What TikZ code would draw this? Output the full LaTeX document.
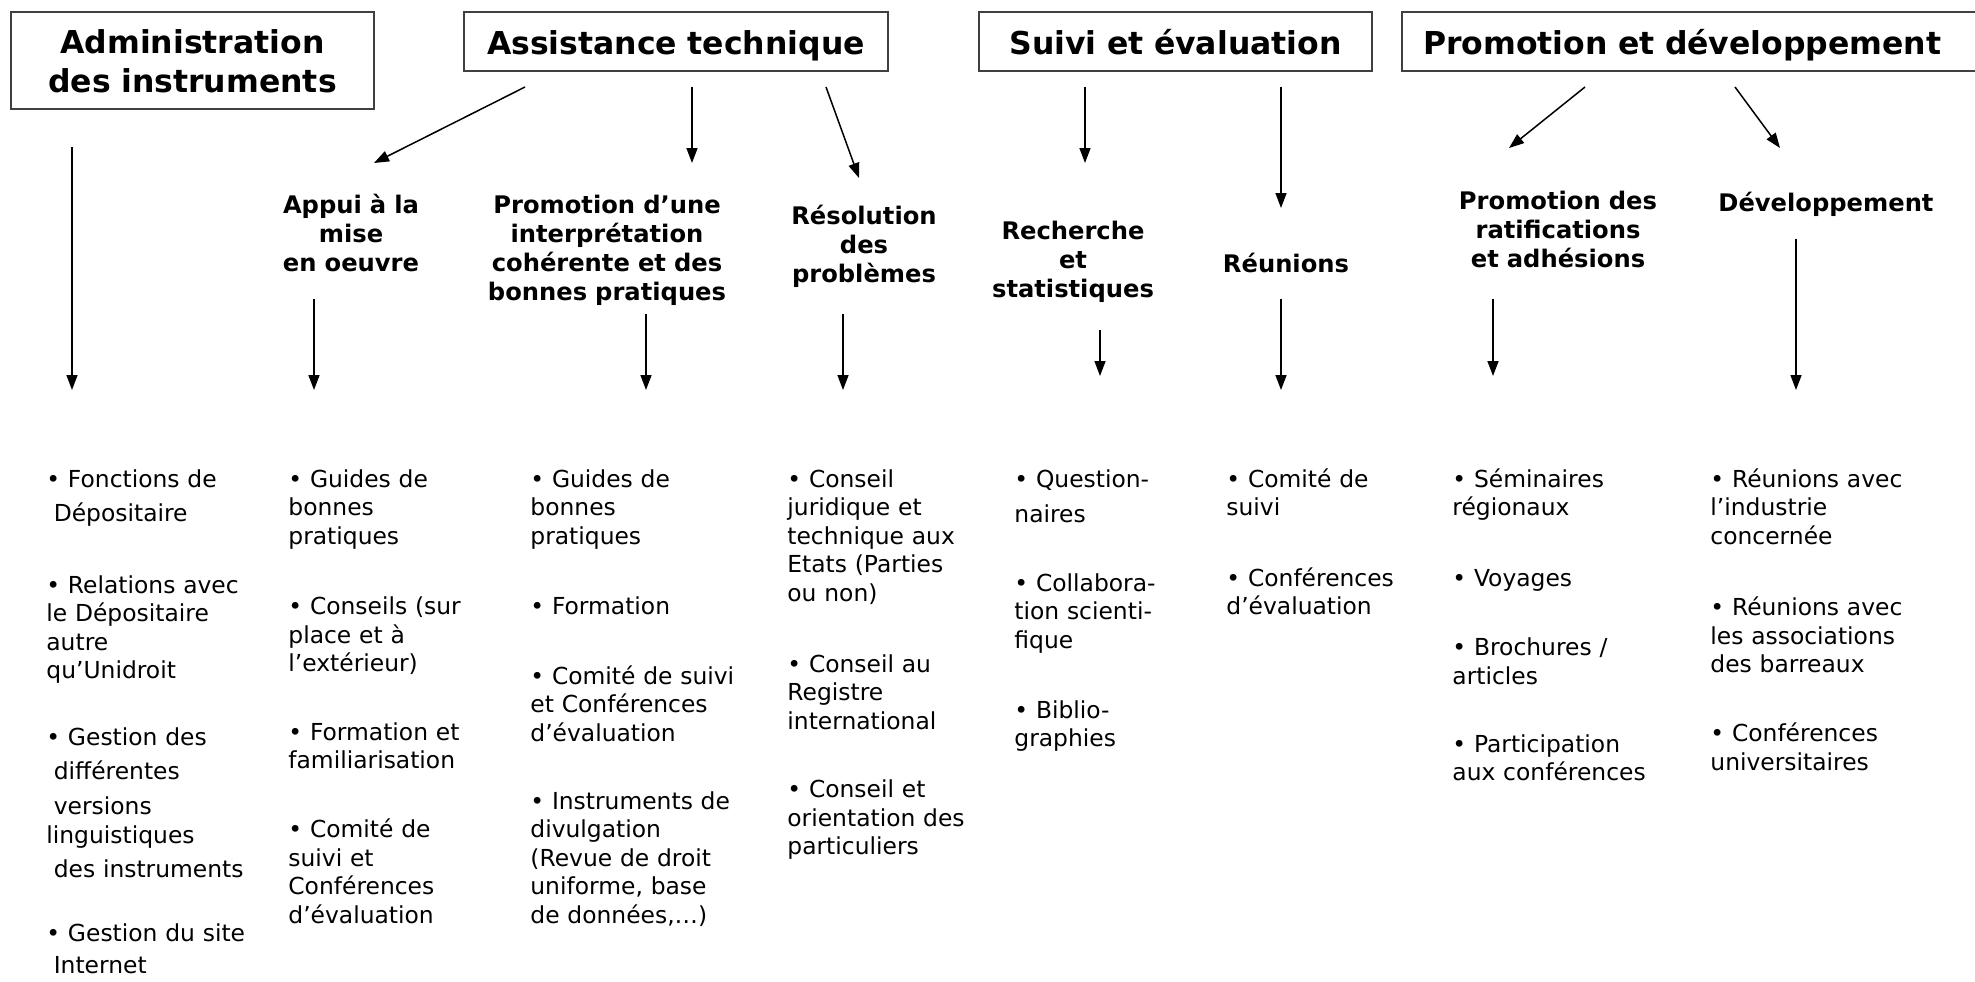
\documentclass[tikz,border=0pt]{standalone}
\usepackage{fontspec}
\setmainfont{DejaVu Sans}
\usetikzlibrary{arrows.meta}
\newcommand\myind{\hspace*{3.7pt}}
\begin{document}
\begin{tikzpicture}[x=0.5pt,y=-0.5pt,
  titlebox/.style={draw=black!75, line width=0.7pt, inner sep=0pt, align=center,
    font=\fontsize{15.75}{19.5}\selectfont\bfseries},
  subhead/.style={anchor=base, inner sep=0pt, text width=150pt, align=center,
    font=\fontsize{12.1}{14.5}\selectfont\bfseries},
  blist/.style={anchor=base west, inner sep=0pt, text width=140pt, align=left,
    font=\fontsize{11.7}{14.25}\selectfont},
  arr/.style={-{Triangle[length=7.5pt,width=5.5pt]}, line width=0.75pt}]

\useasboundingbox (0,0) rectangle (1975,981);
\clip (0,0) rectangle (1975,981);
\fill[white] (0,0) rectangle (1975,981);

% ---------- title boxes ----------
\node[titlebox, text width=181.5pt, minimum height=48.5pt, text height=12pt, text depth=19.5pt]
  (tAdmin) at (192.5,60.5) {Administration\\des instruments};
\node[titlebox, text width=212pt, minimum height=29.5pt, text height=12.5pt, text depth=0pt]
  (tAssist) at (676,41.5) {Assistance technique};
\node[titlebox, text width=196.5pt, minimum height=29.5pt, text height=12.5pt, text depth=0pt]
  (tSuivi) at (1175.5,41.5) {Suivi et évaluation};
\node[titlebox, align=left, text width=294pt, minimum height=29.5pt, text height=12.5pt, text depth=0pt]
  (tPromo) at (1696,41.5) {\hspace*{10.5pt}Promotion et développement};

% ---------- sub headings ----------
\node[subhead] (sAppui) at (351,213) {Appui à la\\mise\\en oeuvre};
\node[subhead] (sInterp) at (607,213.5) {Promotion d’une\\interprétation\\cohérente et des\\bonnes pratiques};
\node[subhead] (sResol) at (864,224.5) {Résolution\\des\\problèmes};
\node[subhead] (sRech) at (1073,239.5) {Recherche\\et\\statistiques};
\node[subhead] (sReun) at (1286,272.5) {Réunions};
\node[subhead] (sRatif) at (1558,209.5) {Promotion des\\ratifications\\et adhésions};
\node[subhead] (sDev) at (1826,211) {Développement};

% ---------- arrows ----------
\coordinate (a1s) at (72,147);    \coordinate (a1e) at (72,390);
\coordinate (a2s) at (525,87);    \coordinate (a2e) at (374,163);
\coordinate (a3s) at (692,87);    \coordinate (a3e) at (692,163);
\coordinate (a4s) at (826,87);    \coordinate (a4e) at (859,178);
\coordinate (a5s) at (314,299);   \coordinate (a5e) at (314,390);
\coordinate (a6s) at (646,314);   \coordinate (a6e) at (646,390);
\coordinate (a7s) at (843,314);   \coordinate (a7e) at (843,390);
\coordinate (a8s) at (1085,87);   \coordinate (a8e) at (1085,163);
\coordinate (a9s) at (1281,87);   \coordinate (a9e) at (1281,208);
\coordinate (a10s) at (1100,330); \coordinate (a10e) at (1100,376);
\coordinate (a11s) at (1281,299); \coordinate (a11e) at (1281,390);
\coordinate (a12s) at (1585,87);  \coordinate (a12e) at (1509,148);
\coordinate (a13s) at (1735,87);  \coordinate (a13e) at (1780,148);
\coordinate (a14s) at (1493,299); \coordinate (a14e) at (1493,376);
\coordinate (a15s) at (1796,239); \coordinate (a15e) at (1796,390);
\foreach \i in {1,...,15} {\draw[arr] (a\i s) -- (a\i e);}

% ---------- bullet lists ----------
% Administration
\node[blist] (c1i1) at (46,487) {• Fonctions de\\[2.75pt]\myind Dépositaire};
\node[blist] (c1i2) at (46,593) {• Relations avec\\le Dépositaire\\autre\\qu’Unidroit};
\node[blist] (c1i3) at (46,745) {• Gestion des\\[3pt]\myind différentes\\[3.25pt]\myind versions\\linguistiques\\[3pt]\myind des instruments};
\node[blist] (c1i4) at (46,941) {• Gestion du site\\[1.75pt]\myind Internet};
% Appui
\node[blist] (c2i1) at (288,487) {• Guides de\\bonnes\\pratiques};
\node[blist] (c2i2) at (288,614.5) {• Conseils (sur\\place et à\\l’extérieur)};
\node[blist] (c2i3) at (288,740) {• Formation et\\familiarisation};
\node[blist] (c2i4) at (288,837.5) {• Comité de\\suivi et\\Conférences\\d’évaluation};
% Interpretation
\node[blist] (c3i1) at (530,487) {• Guides de\\bonnes\\pratiques};
\node[blist] (c3i2) at (530,614.5) {• Formation};
\node[blist] (c3i3) at (530,684) {• Comité de suivi\\et Conférences\\d’évaluation};
\node[blist] (c3i4) at (530,809) {• Instruments de\\divulgation\\(Revue de droit\\uniforme, base\\de données,…)};
% Resolution
\node[blist] (c4i1) at (787,487) {• Conseil\\juridique et\\technique aux\\Etats (Parties\\ou non)};
\node[blist] (c4i2) at (787,672) {• Conseil au\\Registre\\international};
\node[blist] (c4i3) at (787,797.5) {• Conseil et\\orientation des\\particuliers};
% Recherche
\node[blist] (c5i1) at (1014,487) {• Question-\\[3.25pt]naires};
\node[blist] (c5i2) at (1014,591) {• Collabora-\\tion scienti-\\fique};
\node[blist] (c5i3) at (1014,718) {• Biblio-\\graphies};
% Reunions
\node[blist] (c6i1) at (1226,487) {• Comité de\\suivi};
\node[blist] (c6i2) at (1226,586) {• Conférences\\d’évaluation};
% Ratifications
\node[blist] (c7i1) at (1452,487) {• Séminaires\\régionaux};
\node[blist] (c7i2) at (1452,586) {• Voyages};
\node[blist] (c7i3) at (1452,655.5) {• Brochures /\\articles};
\node[blist] (c7i4) at (1452,752) {• Participation\\aux conférences};
% Developpement
\node[blist] (c8i1) at (1710,487) {• Réunions avec\\l’industrie\\concernée};
\node[blist] (c8i2) at (1710,615.5) {• Réunions avec\\les associations\\des barreaux};
\node[blist] (c8i3) at (1710,741.5) {• Conférences\\universitaires};
\end{tikzpicture}
\end{document}
